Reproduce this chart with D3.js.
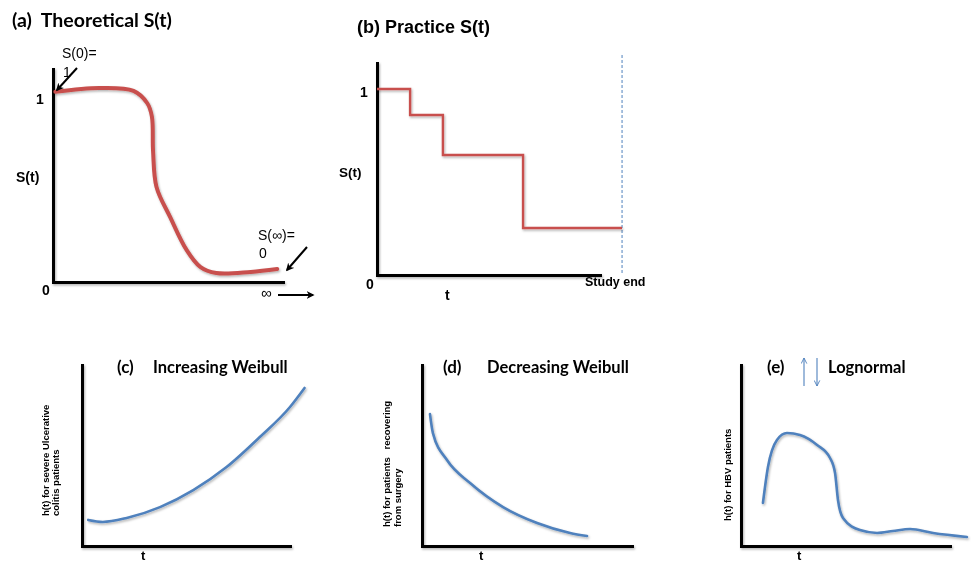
<!DOCTYPE html>
<html>
<head>
<meta charset="utf-8">
<script src="https://cdn.jsdelivr.net/npm/d3@7"></script>
<style>
  body { margin: 0; background: #fff; }
  svg text { white-space: pre; }
</style>
</head>
<body>
<svg id="chart" width="974" height="563"></svg>
<script>
// ==================================
// DATA
// ==================================
// (a) theoretical survival curve
const theoT = [0.1, 2.0, 3.5, 4.1, 4.3, 4.35, 4.5, 5.1, 5.8, 6.4, 7.1, 8.6, 9.75];
const theoS = [1.0, 1.02, 1.005, 0.94, 0.87, 0.69, 0.5, 0.34, 0.17, 0.08, 0.047, 0.053, 0.068];

// (b) practice (Kaplan-Meier like) steps, study end at t = 10
const stepT = [0, 1.35, 2.69, 5.96, 10];
const stepS = [1, 0.86, 0.645, 0.253, 0.253];
const studyEnd = 10;

// (c) increasing Weibull hazard
const incT = [0.3, 1.0, 2.15, 3.75, 5.35, 6.95, 8.55, 10.0, 10.7];
const incH = [1.44, 1.33, 1.55, 2.15, 3.09, 4.36, 6.02, 7.68, 8.73];

// (d) decreasing Weibull hazard
const decT = [0.38, 0.52, 1.19, 2.29, 3.86, 5.48, 7.05, 7.86];
const decH = [7.29, 6.24, 4.75, 3.48, 2.15, 1.27, 0.72, 0.55];

// (e) lognormal hazard
const logT = [1.05, 1.29, 1.72, 2.2, 2.82, 3.64, 4.26, 4.5, 4.64, 4.88, 5.69, 6.51, 7.27, 8.09, 9.19, 10.81];
const logH = [2.38, 4.36, 5.86, 6.24, 6.13, 5.58, 4.86, 4.03, 2.54, 1.55, 0.88, 0.72, 0.83, 0.94, 0.72, 0.5];

// ==================================
// SETUP
// ==================================
const RED = "#c8504d";
const BLUE = "#4f81bd";
const ARIAL = "'Liberation Sans', Arial, sans-serif";
const CALIBRI = "Lato, 'Open Sans', sans-serif";

const svg = d3.select("#chart");
const defs = svg.append("defs");

// soft office-style shadow under lines
const shadow = defs.append("filter").attr("id", "shadow")
    .attr("x", "-10%").attr("y", "-10%").attr("width", "120%").attr("height", "120%");
shadow.append("feDropShadow")
    .attr("dx", 1).attr("dy", 1.5).attr("stdDeviation", 1)
    .attr("flood-color", "#000").attr("flood-opacity", 0.3);

// arrow heads
defs.append("marker").attr("id", "head-black")
    .attr("viewBox", "0 0 10 10").attr("refX", 8).attr("refY", 5)
    .attr("markerWidth", 4).attr("markerHeight", 4).attr("orient", "auto")
    .append("path").attr("d", "M0,0 L10,5 L0,10 L3,5 Z").attr("fill", "#000");
defs.append("marker").attr("id", "head-blue")
    .attr("viewBox", "0 0 10 10").attr("refX", 9).attr("refY", 5)
    .attr("markerWidth", 7).attr("markerHeight", 7).attr("markerUnits", "userSpaceOnUse")
    .attr("orient", "auto")
    .append("path").attr("d", "M1,1 L9,5 L1,9").attr("fill", "none")
    .attr("stroke", BLUE).attr("stroke-width", 1.3);

function zip(xs, ys) {
    return xs.map((v, i) => ({ t: v, v: ys[i] }));
}

// plain axes: only the domain lines, no ticks
function drawAxes(x, y, width) {
    const g = svg.append("g").attr("filter", "url(#shadow)");
    g.append("g")
        .attr("transform", `translate(0,${y.range()[0]})`)
        .call(d3.axisBottom(x).tickValues([]).tickSizeOuter(0));
    g.append("g")
        .attr("transform", `translate(${x.range()[0]},0)`)
        .call(d3.axisLeft(y).tickValues([]).tickSizeOuter(0));
    g.selectAll(".domain")
        .attr("stroke", "#000")
        .attr("stroke-width", width)
        .attr("stroke-linecap", "square");
}

function drawCurve(data, x, y, color, width, curve) {
    const line = d3.line()
        .x(d => x(d.t))
        .y(d => y(d.v))
        .curve(curve);
    svg.append("path")
        .datum(data)
        .attr("d", line)
        .attr("fill", "none")
        .attr("stroke", color)
        .attr("stroke-width", width)
        .attr("stroke-linecap", "round")
        .attr("stroke-linejoin", "round")
        .attr("filter", "url(#shadow)");
}

function label(x, y, txt, size, weight, family, anchor) {
    return svg.append("text")
        .attr("x", x).attr("y", y)
        .attr("font-family", family || ARIAL)
        .attr("font-size", size)
        .attr("font-weight", weight || "normal")
        .attr("text-anchor", anchor || "start")
        .attr("fill", "#000")
        .text(txt);
}

function arrow(x1, y1, x2, y2, color, w, marker) {
    svg.append("line")
        .attr("x1", x1).attr("y1", y1).attr("x2", x2).attr("y2", y2)
        .attr("stroke", color).attr("stroke-width", w)
        .attr("marker-end", `url(#${marker})`);
}

// ==================================
// (a) Theoretical S(t)
// ==================================
const xA = d3.scaleLinear().domain([0, 10]).range([53, 283]);
const yA = d3.scaleLinear().domain([0, 1.12]).range([282, 69]);
drawAxes(xA, yA, 3);
drawCurve(zip(theoT, theoS), xA, yA, RED, 4, d3.curveCatmullRom.alpha(0.5));

label(12, 27, "(a)  Theoretical S(t)", 19.5, "bold", CALIBRI);
label(62, 58, "S(0)=", 14);
label(63, 77, "1", 14);
arrow(77, 68, 57, 90, "#000", 2, "head-black");
label(36, 104, "1", 14, "bold");
label(16, 182, "S(t)", 14, "bold");
label(42, 295, "0", 14, "bold");
label(258, 240, "S(\u221e)=", 14);
label(259, 258, "0", 14);
arrow(307, 247, 287, 270, "#000", 2, "head-black");
label(261, 298, "\u221e", 15);
arrow(278, 295, 313, 295, "#000", 2, "head-black");

// ==================================
// (b) Practice S(t)
// ==================================
const xB = d3.scaleLinear().domain([0, 9.1]).range([377, 600]);
const yB = d3.scaleLinear().domain([0, 1.14]).range([275, 63]);
drawAxes(xB, yB, 3);

svg.append("line")
    .attr("x1", xB(studyEnd)).attr("x2", xB(studyEnd))
    .attr("y1", 55).attr("y2", yB(0))
    .attr("stroke", BLUE).attr("stroke-width", 1)
    .attr("stroke-dasharray", "3,2");

const stepLine = d3.line()
    .x(d => xB(d.t))
    .y(d => yB(d.v))
    .curve(d3.curveStepAfter);
svg.append("path")
    .datum(zip(stepT, stepS))
    .attr("d", stepLine)
    .attr("fill", "none")
    .attr("stroke", RED)
    .attr("stroke-width", 2.4)
    .attr("filter", "url(#shadow)");

label(357, 33, "(b) Practice S(t)", 18, "bold");
label(360, 97, "1", 14, "bold");
label(339, 177, "S(t)", 13.5, "bold");
label(366, 289, "0", 14, "bold");
label(445, 300, "t", 14, "bold");
label(585, 286, "Study end", 12.5, "bold");

// ==================================
// (c) (d) (e) hazard shapes
// ==================================
const yH = d3.scaleLinear().domain([0, 10]).range([546, 365]);

function rotLabel(x, y, txt) {
    label(0, 0, txt, 9.5, "bold")
        .attr("transform", `translate(${x},${y}) rotate(-90)`);
}

// (c)
const xC = d3.scaleLinear().domain([0, 10]).range([82, 290]);
drawAxes(xC, yH, 3);
drawCurve(zip(incT, incH), xC, yH, BLUE, 2.6, d3.curveMonotoneX);
label(117, 373, "(c)", 17, "bold", CALIBRI);
label(153, 373, "Increasing Weibull", 16.5, "bold", CALIBRI);
label(141, 560, "t", 13, "bold");
rotLabel(49, 516, "h(t) for severe Ulcerative");
rotLabel(59, 516, "colitis patients");

// (d)
const xD = d3.scaleLinear().domain([0, 10]).range([422, 632]);
drawAxes(xD, yH, 3);
drawCurve(zip(decT, decH), xD, yH, BLUE, 2.6, d3.curveMonotoneX);
label(443, 373, "(d)", 17, "bold", CALIBRI);
label(487, 373, "Decreasing Weibull", 16.5, "bold", CALIBRI);
label(479, 560, "t", 13, "bold");
rotLabel(390, 527, "h(t) for patients   recovering");
rotLabel(401, 527, "from surgery");

// (e)
const xE = d3.scaleLinear().domain([0, 10]).range([741, 950]);
drawAxes(xE, yH, 3);
drawCurve(zip(logT, logH), xE, yH, BLUE, 2.6, d3.curveMonotoneX);
label(767, 373, "(e)", 17, "bold", CALIBRI);
arrow(804, 386, 804, 358, BLUE, 1.1, "head-blue");
arrow(817, 358, 817, 386, BLUE, 1.1, "head-blue");
label(828, 373, "Lognormal", 16.5, "bold", CALIBRI);
label(797, 560, "t", 13, "bold");
rotLabel(731, 521, "h(t) for HBV patients");
</script>
</body>
</html>
